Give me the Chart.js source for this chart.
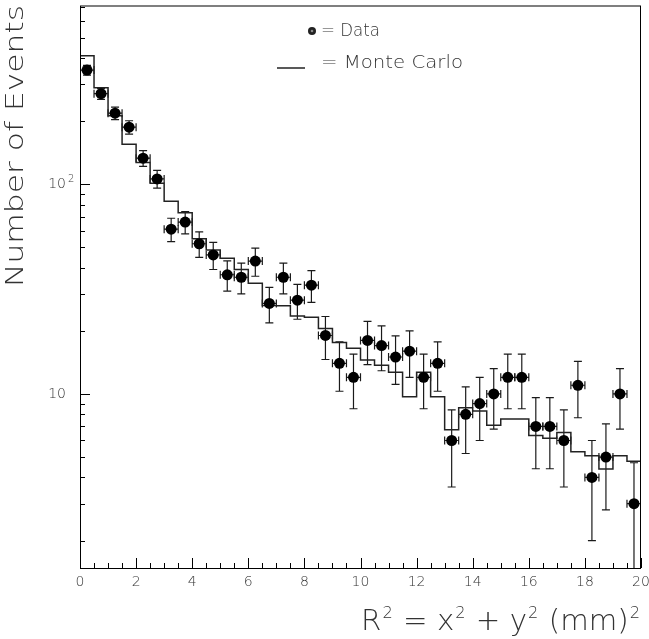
<!DOCTYPE html>
<html>
<head>
<meta charset="utf-8">
<script src="https://cdn.jsdelivr.net/npm/chart.js@4.4.1/dist/chart.umd.min.js"></script>
<style>
    body { margin: 0; background: #fff; }
    #chartR2 { display: block; }
</style>
</head>
<body>
<canvas id="chartR2" width="649" height="639"></canvas>
<script>
// R^2 bins, 0.5 mm^2 wide
var binCentres = [0.25, 0.75, 1.25, 1.75, 2.25, 2.75, 3.25, 3.75, 4.25, 4.75,
    5.25, 5.75, 6.25, 6.75, 7.25, 7.75, 8.25, 8.75, 9.25, 9.75,
    10.25, 10.75, 11.25, 11.75, 12.25, 12.75, 13.25, 13.75, 14.25, 14.75,
    15.25, 15.75, 16.25, 16.75, 17.25, 17.75, 18.25, 18.75, 19.25, 19.75];
var binEdges = [0, 0.5, 1, 1.5, 2, 2.5, 3, 3.5, 4, 4.5, 5, 5.5, 6, 6.5, 7, 7.5, 8, 8.5, 9, 9.5,
    10, 10.5, 11, 11.5, 12, 12.5, 13, 13.5, 14, 14.5, 15, 15.5, 16, 16.5, 17, 17.5, 18, 18.5, 19, 19.5, 20];
var binHalfWidth = 0.25;

// Data (counts and errors)
var dataCounts = [350, 270, 218, 187, 133, 106, 61, 66, 52, 46,
    37, 36, 43, 27, 36, 28, 33, 19, 14, 12,
    18, 17, 15, 16, 12, 14, 6, 8, 9, 10,
    12, 12, 7, 7, 6, 11, 4, 5, 10, 3];
var dataErrors = [18.7, 16.4, 14.8, 13.7, 11.5, 10.3, 7.8, 8.1, 7.2, 6.8,
    6.1, 6.0, 6.6, 5.2, 6.0, 5.3, 5.7, 4.4, 3.7, 3.5,
    4.2, 4.1, 3.9, 4.0, 3.5, 3.7, 2.4, 2.8, 3.0, 3.2,
    3.5, 3.5, 2.6, 2.6, 2.4, 3.3, 2.0, 2.2, 3.2, 1.7];

// Monte Carlo histogram, one value per bin
var mcCounts = [410, 288, 212, 155, 127, 101, 83, 73, 55, 48.6,
    44.4, 39.2, 33.7, 26.4, 26.3, 23.5, 23.2, 20.5, 17.6, 16.5,
    14.5, 13.7, 12.7, 9.7, 12.7, 9.7, 6.75, 8.6, 8.3, 7.1,
    7.6, 7.6, 6.33, 6.15, 6.55, 5.3, 5.07, 4.39, 5.07, 4.78];

// axes
var xMin = 0, xMax = 20;
var yMin = 1.48, yMax = 711;
var xTickLabels = ['0', '2', '4', '6', '8', '10', '12', '14', '16', '18', '20'];
var yTickValues = [10, 100];
var yTickBase = ['10', '10'];
var yTickSup = ['', '2'];

var _chartR2 = null;
var FONT = '"DejaVu Sans", "Liberation Sans", sans-serif';
var INK = '#000';
var TEXT = '#333';

function fitText(ctx, text, x, y, width) {
    // stretch the text to a given width (the original font is wider)
    var w = ctx.measureText(text).width;
    ctx.save();
    ctx.translate(x, y);
    ctx.scale(width / w, 1);
    ctx.fillText(text, 0, 0);
    ctx.restore();
}

var errorBars = {
    id: 'errorBars',
    beforeDatasetsDraw: function (chart) {
        var ctx = chart.ctx;
        var xs = chart.scales.x, ys = chart.scales.y, a = chart.chartArea;
        ctx.save();
        ctx.beginPath();
        ctx.rect(a.left, a.top, a.right - a.left, a.bottom - a.top);
        ctx.clip();
        ctx.strokeStyle = '#1a1a1a';
        ctx.lineWidth = 1.2;
        binCentres.forEach(function (c, i) {
            var px = xs.getPixelForValue(c);
            var py = ys.getPixelForValue(dataCounts[i]);
            var lo = dataCounts[i] - dataErrors[i];
            var yLo = lo > 0 ? ys.getPixelForValue(lo) : a.bottom + 10;
            var yHi = ys.getPixelForValue(dataCounts[i] + dataErrors[i]);
            var xL = xs.getPixelForValue(c - binHalfWidth);
            var xR = xs.getPixelForValue(c + binHalfWidth);
            ctx.beginPath();
            // vertical bar + caps
            ctx.moveTo(px, yLo); ctx.lineTo(px, yHi);
            ctx.moveTo(px - 4, yHi); ctx.lineTo(px + 4, yHi);
            ctx.moveTo(px - 4, yLo); ctx.lineTo(px + 4, yLo);
            // horizontal bar + end ticks
            ctx.moveTo(xL, py); ctx.lineTo(xR, py);
            ctx.moveTo(xL, py - 4); ctx.lineTo(xL, py + 4);
            ctx.moveTo(xR, py - 4); ctx.lineTo(xR, py + 4);
            ctx.stroke();
        });
        ctx.restore();
    }
};

var frameAxes = {
    id: 'frameAxes',
    afterDraw: function (chart) {
        var ctx = chart.ctx;
        var xs = chart.scales.x, ys = chart.scales.y, a = chart.chartArea;
        ctx.save();
        ctx.strokeStyle = INK;
        ctx.lineWidth = 1;
        ctx.strokeRect(a.left + 0.5, a.top + 0.5, a.right - a.left - 1, a.bottom - a.top);

        // x ticks, pointing inward
        ctx.beginPath();
        for (var v = xMin; v <= xMax + 0.001; v += 0.5) {
            var px = Math.round(xs.getPixelForValue(v)) + 0.5;
            var len = (Math.abs(v % 2) < 0.001) ? 10 : 5;
            ctx.moveTo(px, a.bottom); ctx.lineTo(px, a.bottom - len);
        }
        // y ticks (log decades)
        [1, 10, 100].forEach(function (d) {
            for (var m = 1; m <= 9; m++) {
                var val = m * d;
                if (val < yMin || val > yMax) continue;
                var py = Math.round(ys.getPixelForValue(val)) + 0.5;
                var l = m === 1 ? 10 : 5;
                ctx.moveTo(a.left, py); ctx.lineTo(a.left + l, py);
            }
        });
        ctx.stroke();

        // tick labels
        ctx.fillStyle = TEXT;
        ctx.font = '200 14px ' + FONT;
        ctx.textAlign = 'center';
        ctx.textBaseline = 'middle';
        xTickLabels.forEach(function (t) {
            ctx.fillText(t, xs.getPixelForValue(parseFloat(t)), 582);
        });
        yTickValues.forEach(function (val, i) {
            var py = ys.getPixelForValue(val);
            ctx.font = '200 14px ' + FONT;
            ctx.textAlign = 'right';
            ctx.fillText(yTickBase[i], 66, py);
            if (yTickSup[i]) {
                ctx.font = '200 10px ' + FONT;
                ctx.textAlign = 'left';
                ctx.fillText(yTickSup[i], 68, py - 5);
            }
        });

        // y title
        ctx.save();
        ctx.font = '200 25px ' + FONT;
        ctx.textAlign = 'left';
        ctx.textBaseline = 'alphabetic';
        ctx.translate(23, 287);
        ctx.rotate(-Math.PI / 2);
        fitText(ctx, 'Number of Events', 0, 0, 282);
        ctx.restore();

        // x title: R^2 = x^2 + y^2 (mm)^2
        var parts = [['R', 0], ['2', 1], [' = x', 0], ['2', 1], [' + y', 0], ['2', 1], [' (mm)', 0], ['2', 1]];
        var big = '200 29px ' + FONT, small = '200 16px ' + FONT;
        var total = 0;
        parts.forEach(function (p) {
            ctx.font = p[1] ? small : big;
            total += ctx.measureText(p[0]).width + (p[1] ? 2 : 0);
        });
        ctx.save();
        ctx.textAlign = 'left';
        ctx.textBaseline = 'alphabetic';
        ctx.translate(641 - 280, 630);
        ctx.scale(280 / total, 1);
        var cx = 0;
        parts.forEach(function (p) {
            ctx.font = p[1] ? small : big;
            ctx.fillText(p[0], cx + (p[1] ? 1 : 0), p[1] ? -12 : 0);
            cx += ctx.measureText(p[0]).width + (p[1] ? 2 : 0);
        });
        ctx.restore();

        // legend
        ctx.fillStyle = '#222';
        ctx.beginPath();
        ctx.arc(312, 31, 4, 0, Math.PI * 2);
        ctx.fill();
        ctx.fillStyle = '#888';
        ctx.beginPath();
        ctx.arc(312, 31, 1.3, 0, Math.PI * 2);
        ctx.fill();
        ctx.strokeStyle = '#222';
        ctx.lineWidth = 1.5;
        ctx.beginPath();
        ctx.moveTo(277, 68); ctx.lineTo(305, 68);
        ctx.stroke();
        ctx.fillStyle = TEXT;
        ctx.font = '200 18px ' + FONT;
        ctx.textAlign = 'left';
        ctx.textBaseline = 'middle';
        fitText(ctx, '= Data', 321, 31, 59);
        fitText(ctx, '= Monte Carlo', 321, 63, 142);
        ctx.restore();
    }
};

function renderChart() {
    var ctx = document.getElementById('chartR2').getContext('2d');
    var points = [];
    binCentres.forEach(function (c, i) {
        points.push({ x: c, y: dataCounts[i] });
    });
    // each bin value holds from its left edge to the next edge
    var mcPoints = [];
    mcCounts.forEach(function (v, i) {
        mcPoints.push({ x: binEdges[i], y: v });
    });
    mcPoints.push({ x: binEdges[binEdges.length - 1], y: mcCounts[mcCounts.length - 1] });

    _chartR2 = new Chart(ctx, {
        type: 'scatter',
        data: {
            datasets: [{
                label: 'Data',
                data: points,
                pointRadius: 5.5,
                pointBackgroundColor: '#000',
                pointBorderWidth: 0,
                showLine: false,
                order: 0
            }, {
                label: 'Monte Carlo',
                type: 'line',
                data: mcPoints,
                stepped: 'before',
                borderColor: '#222',
                borderWidth: 1.5,
                pointRadius: 0,
                fill: false,
                order: 1
            }]
        },
        options: {
            responsive: false,
            animation: false,
            layout: { padding: { left: 80, right: 8, top: 5, bottom: 71 } },
            plugins: { legend: { display: false }, tooltip: { enabled: false } },
            scales: {
                x: { type: 'linear', min: xMin, max: xMax, display: false },
                y: { type: 'logarithmic', min: yMin, max: yMax, display: false }
            }
        },
        plugins: [errorBars, frameAxes]
    });
}

renderChart();
</script>
</body>
</html>
